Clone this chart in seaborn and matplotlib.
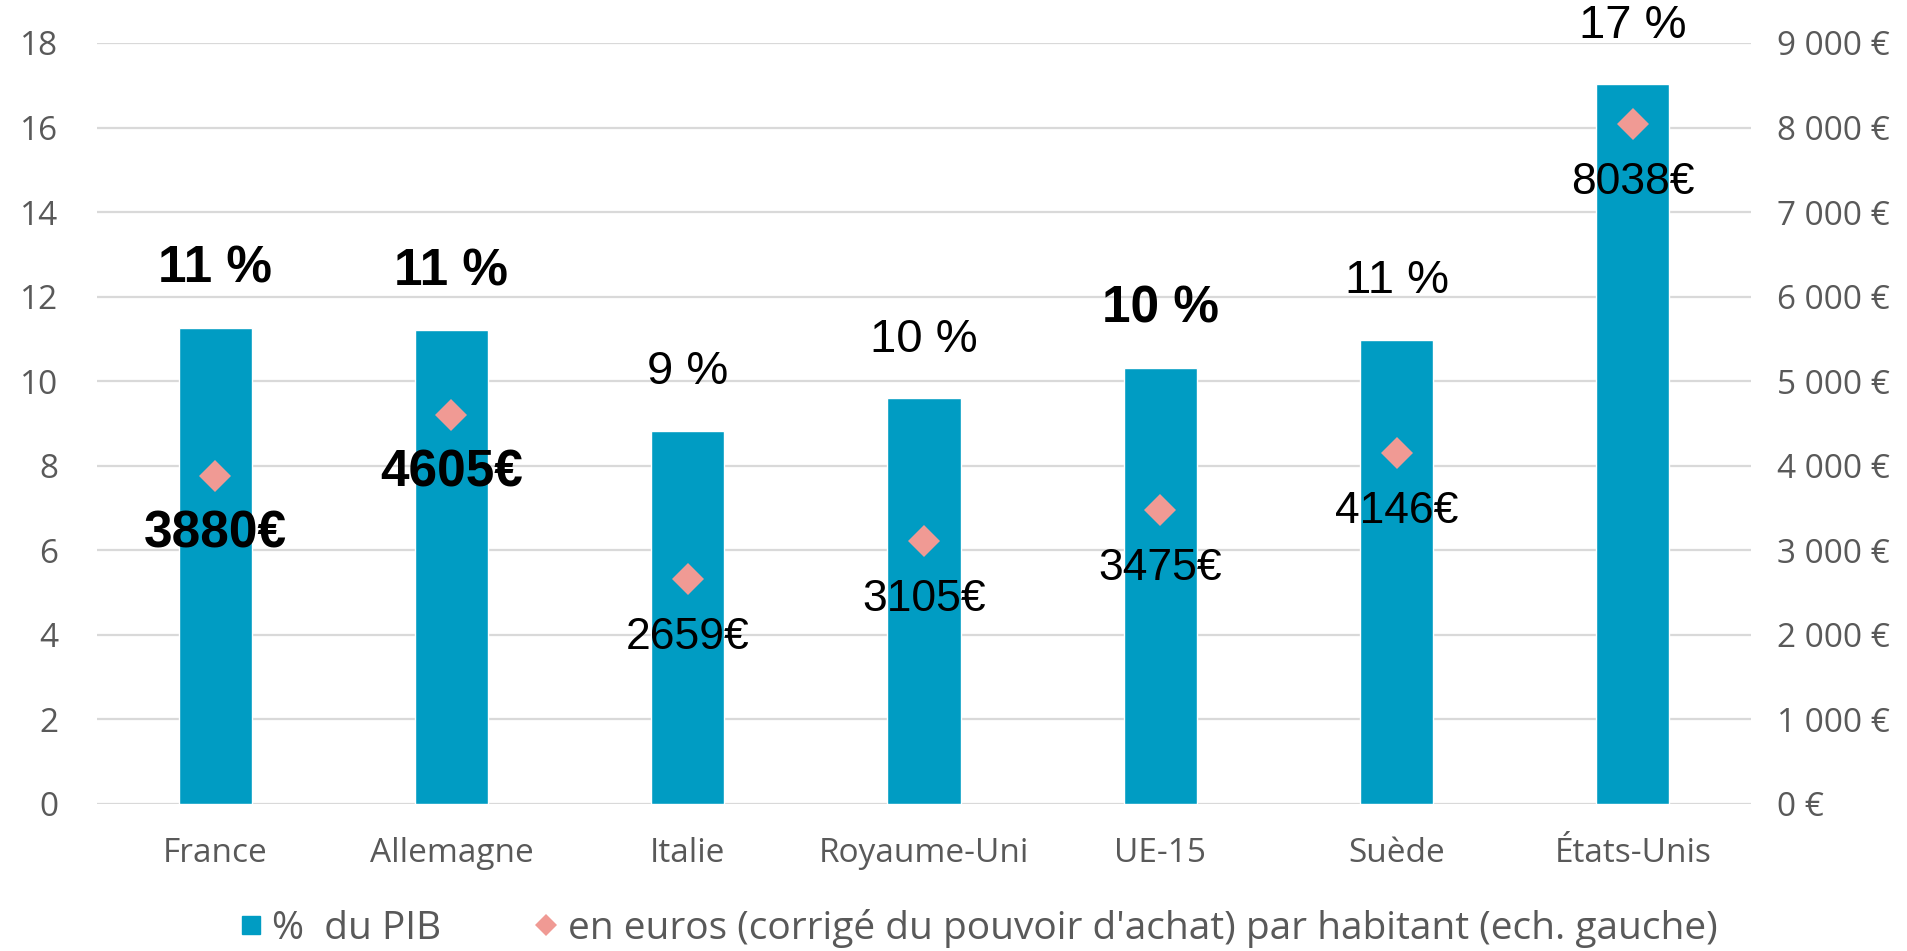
import numpy as np
import pandas as pd
import matplotlib
matplotlib.use("Agg")
import matplotlib.pyplot as plt
from matplotlib.lines import Line2D
import seaborn as sns

# ----------------------------------------------------------------------
# données
# ----------------------------------------------------------------------
pays = ["France", "Allemagne", "Italie", "Royaume-Uni", "UE-15", "Suède", "États-Unis"]
part_pib = [11.27, 11.21, 8.83, 9.60, 10.32, 10.98, 17.02]      # % du PIB
pct_labels = ["11 %", "11 %", "9 %", "10 %", "10 %", "11 %", "17 %"]
euros_hab = [3880, 4605, 2659, 3105, 3475, 4146, 8038]           # € / habitant
gras = [True, True, False, False, True, False, False]            # étiquettes % en gras
gras_euro = [True, True, False, False, False, False, False]

df = pd.DataFrame({"pays": pays, "pib": part_pib, "euros": euros_hab})

BLEU = "#009CC3"
ROSE = "#F09A94"
GRIS = "#595959"
GRILLE = "#D9D9D9"

sns.set_theme(style="white")
plt.rcParams["font.family"] = ["Open Sans", "DejaVu Sans"]

fig = plt.figure(figsize=(19.07, 9.51), dpi=100)
ax = fig.add_axes([0.0509, 0.1546, 0.8673, 0.8002])
ax2 = ax.twinx()

# barres : % du PIB
sns.barplot(data=df, x="pays", y="pib", color=BLEU, width=0.31,
            saturation=1, ax=ax, zorder=2)
ax.set_ylim(0, 18)
ax.set_yticks(range(0, 19, 2))
ax.set_xlim(-0.5, len(pays) - 0.5)
ax.grid(axis="y", color=GRILLE, linewidth=1.6, zorder=0)
ax.set_axisbelow(True)
ax.set_xlabel("")
ax.set_ylabel("")

# losanges : euros par habitant (axe de droite)
sns.pointplot(data=df, x="pays", y="euros", color=ROSE, linestyle="none",
              marker="D", markersize=16, markeredgewidth=0, errorbar=None, ax=ax2)
ax2.set_ylim(0, 9000)
ax2.set_yticks(range(0, 9001, 1000))
ax2.set_yticklabels([f"{v:,}".replace(",", " ") + " €" for v in range(0, 9001, 1000)])
ax2.set_xlim(-0.5, len(pays) - 0.5)
ax2.set_ylabel("")
ax2.grid(False)

for a in (ax, ax2):
    for s in a.spines.values():
        s.set_visible(False)
    a.tick_params(length=0, labelsize=24, colors=GRIS)
ax.tick_params(axis="y", pad=28)
ax.tick_params(axis="x", pad=24)
ax2.tick_params(axis="y", pad=19)

# étiquettes de données
for i, (v, lab, b) in enumerate(zip(part_pib, pct_labels, gras)):
    ax.annotate(lab, (i, v), xytext=(0, 42), textcoords="offset points",
                ha="center", va="center", fontsize=37 if b else 34,
                fontweight="bold" if b else "normal",
                family="Liberation Sans", color="black")

for i, (v, b) in enumerate(zip(euros_hab, gras_euro)):
    ax2.annotate(f"{v}€", (i, v), xytext=(0, -42), textcoords="offset points",
                 ha="center", va="center", fontsize=37 if b else 32,
                 fontweight="bold" if b else "normal",
                 family="Liberation Sans", color="black", zorder=5)

# légende
handles = [
    Line2D([], [], marker="s", linestyle="none", color=BLEU, markersize=13),
    Line2D([], [], marker="D", linestyle="none", color=ROSE, markersize=11,
           markeredgewidth=0),
]
fig.legend(handles, ["%  du PIB",
                     "en euros (corrigé du pouvoir d'achat) par habitant (ech. gauche)"],
           loc="center", bbox_to_anchor=(0.511, 0.024), ncol=2, frameon=False,
           fontsize=28, labelcolor=GRIS, handletextpad=0.05, handlelength=1.0,
           columnspacing=2.2)

fig.savefig("out.png", dpi=100)
